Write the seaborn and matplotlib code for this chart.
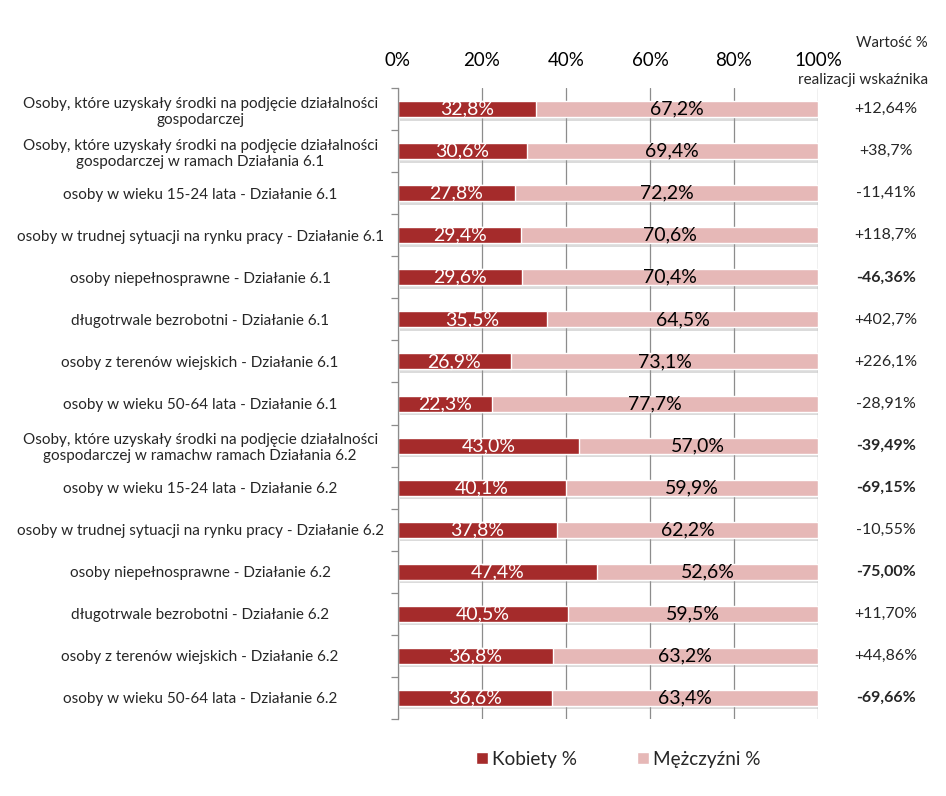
import matplotlib
matplotlib.use("Agg")
import matplotlib.pyplot as plt
import matplotlib.patheffects as pe
import matplotlib.ticker as mticker
import numpy as np
import pandas as pd
import seaborn as sns

# ---------------------------------------------------------------------------
# Data
# ---------------------------------------------------------------------------
categories = [
    "Osoby, które uzyskały środki na podjęcie działalności\ngospodarczej",
    "Osoby, które uzyskały środki na podjęcie działalności\ngospodarczej w ramach Działania 6.1",
    "osoby w wieku 15-24 lata - Działanie 6.1",
    "osoby w trudnej sytuacji na rynku pracy - Działanie 6.1",
    "osoby niepełnosprawne - Działanie 6.1",
    "długotrwale bezrobotni - Działanie 6.1",
    "osoby z terenów wiejskich - Działanie 6.1",
    "osoby w wieku 50-64 lata - Działanie 6.1",
    "Osoby, które uzyskały środki na podjęcie działalności\ngospodarczej w ramachw ramach Działania 6.2",
    "osoby w wieku 15-24 lata - Działanie 6.2",
    "osoby w trudnej sytuacji na rynku pracy - Działanie 6.2",
    "osoby niepełnosprawne - Działanie 6.2",
    "długotrwale bezrobotni - Działanie 6.2",
    "osoby z terenów wiejskich - Działanie 6.2",
    "osoby w wieku 50-64 lata - Działanie 6.2",
]
kobiety = [32.8, 30.6, 27.8, 29.4, 29.6, 35.5, 26.9, 22.3, 43.0, 40.1, 37.8, 47.4, 40.5, 36.8, 36.6]
mezczyzni = [67.2, 69.4, 72.2, 70.6, 70.4, 64.5, 73.1, 77.7, 57.0, 59.9, 62.2, 52.6, 59.5, 63.2, 63.4]
realizacja = ["+12,64%", "+38,7%", "-11,41%", "+118,7%", "-46,36%", "+402,7%", "+226,1%",
              "-28,91%", "-39,49%", "-69,15%", "-10,55%", "-75,00%", "+11,70%", "+44,86%",
              "-69,66%"]
realizacja_bold = [False, False, False, False, True, False, False, False, True, True,
                   False, True, False, False, True]

RED = "#A52B2B"
PINK = "#E6B8B7"

sns.set_theme(style="white")
plt.rcParams["font.family"] = ["Lato", "DejaVu Sans"]

df = pd.DataFrame({"kat": categories, "k": kobiety, "m": mezczyzni})
df["total"] = df["k"] + df["m"]

fig = plt.figure(figsize=(9.46, 7.96), dpi=100)
ax = fig.add_axes([0.4207, 0.0967, 0.444, 0.7927])

sns.barplot(data=df, x="total", y="kat", orient="h", color=PINK, width=0.38,
            saturation=1, ax=ax, label="Mężczyźni %")
n_bg = len(ax.patches)
sns.barplot(data=df, x="k", y="kat", orient="h", color=RED, width=0.38,
            saturation=1, ax=ax, label="Kobiety %")

# soft drop shadow under the full-width bars
shadow = [pe.SimplePatchShadow(offset=(1.5, -2.5), shadow_rgbFace="#9a9a9a", alpha=0.35),
          pe.Normal()]
for bar in ax.patches[:n_bg]:
    bar.set_path_effects(shadow)

# data labels
for i, (k, m) in enumerate(zip(kobiety, mezczyzni)):
    ax.text(k / 2, i, f"{k:.1f}%".replace(".", ","), ha="center", va="center",
            color="white", fontsize=14)
    ax.text(k + m / 2, i, f"{m:.1f}%".replace(".", ","), ha="center", va="center",
            color="black", fontsize=14)
    ax.text(1.162, i, realizacja[i], transform=ax.get_yaxis_transform(),
            ha="center", va="center", fontsize=11.5,
            fontweight="bold" if realizacja_bold[i] else "normal")

ax.set_xlim(0, 100)
ax.set_ylim(len(categories) - 0.5, -0.5)
ax.xaxis.tick_top()
ax.xaxis.set_major_locator(mticker.MultipleLocator(20))
ax.xaxis.set_major_formatter(mticker.FuncFormatter(lambda x, _: f"{int(x)}%"))
ax.tick_params(axis="x", labelsize=13.5, length=0, pad=14, colors="black")
ax.set_xlabel("")
ax.set_ylabel("")
ax.grid(axis="x", color="#8c8c8c", linewidth=0.9)
ax.set_axisbelow(True)

ax.set_yticks(range(len(categories)))
ax.set_yticklabels(categories, fontsize=11, ha="center", linespacing=1.2)
ax.tick_params(axis="y", which="major", length=0, pad=142.5)
ax.set_yticks(np.arange(-0.5, len(categories), 1), minor=True)
ax.tick_params(axis="y", which="minor", length=5, color="#8c8c8c", width=0.9, left=True)

for side in ["top", "right", "bottom"]:
    ax.spines[side].set_visible(False)
ax.spines["left"].set_color("#8c8c8c")
ax.spines["left"].set_linewidth(0.9)

fig.text(0.981, 0.946, "Wartość %", ha="right", va="center", fontsize=10.8)
fig.text(0.981, 0.8995, "realizacji wskaźnika", ha="right", va="center", fontsize=11)

handles, labels = ax.get_legend_handles_labels()
order = [labels.index("Kobiety %"), labels.index("Mężczyźni %")]
leg = ax.legend([handles[i] for i in order], [labels[i] for i in order],
                loc="center", bbox_to_anchor=(0.524, -0.064), ncol=2, frameon=False,
                fontsize=13.6, handlelength=0.63, handleheight=0.63, handletextpad=0.21,
                columnspacing=3.2)
for h in leg.legend_handles:
    h.set_path_effects([])

fig.savefig("out.png", dpi=100)
